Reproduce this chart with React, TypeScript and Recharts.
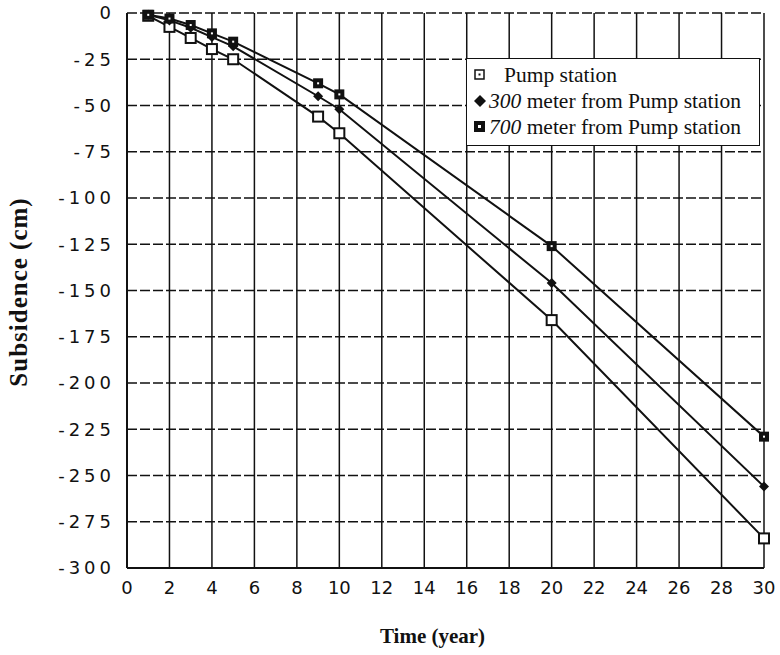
import { LineChart, Line, XAxis, YAxis, CartesianGrid } from 'recharts';

const years = [1, 2, 3, 4, 5, 9, 10, 20, 30];
const pumpStation = [-1.5, -7.5, -13.5, -19.5, -25, -56, -65, -166, -284];
const m300 = [-1, -4, -8, -13, -18, -45, -52, -146, -256];
const m700 = [-1, -3, -6.5, -11, -15.5, -38, -44, -126, -229];
const xTicks = [0, 2, 4, 6, 8, 10, 12, 14, 16, 18, 20, 22, 24, 26, 28, 30];
const yTicks = [0, -25, -50, -75, -100, -125, -150, -175, -200, -225, -250, -275, -300];

const data = years.map((t, i) => ({
  t,
  pump: pumpStation[i],
  m300: m300[i],
  m700: m700[i],
}));

const OpenSquare = (p: any) => (
  <rect key={`o-${p.index}`} x={p.cx - 5} y={p.cy - 5} width={10} height={10}
    fill="#fff" stroke="#111" strokeWidth={2} />
);

const Diamond = (p: any) => (
  <path key={`d-${p.index}`}
    d={`M${p.cx},${p.cy - 5} L${p.cx + 5},${p.cy} L${p.cx},${p.cy + 5} L${p.cx - 5},${p.cy} Z`}
    fill="#111" />
);

const FilledSquare = (p: any) => (
  <g key={`f-${p.index}`}>
    <rect x={p.cx - 5} y={p.cy - 5} width={10} height={10} fill="#111" />
    <rect x={p.cx - 1} y={p.cy - 1} width={2} height={2} fill="#fff" />
  </g>
);

const tickStyle = { fill: '#111', fontSize: 18, fontFamily: 'DejaVu Sans' };

function Legend() {
  const row = { display: 'flex', alignItems: 'center', height: 26, whiteSpace: 'nowrap' } as const;
  return (
    <div style={{
      position: 'absolute', left: 466, top: 58, width: 294, height: 88,
      background: '#fff', border: '1.5px solid #111', boxSizing: 'border-box',
      fontFamily: '"Liberation Serif", serif', fontSize: 21.5, color: '#111', padding: '3px 0 0 6px',
    }}>
      <div style={row}>
        <svg width={14} height={14} style={{ marginRight: 17 }}>
          <rect x={2} y={2} width={9} height={9} fill="#fff" stroke="#111" strokeWidth={1.5} />
          <rect x={5.5} y={5.5} width={2} height={2} fill="#111" />
        </svg>
        <span>Pump station</span>
      </div>
      <div style={row}>
        <svg width={14} height={14} style={{ marginRight: 2 }}>
          <path d="M7,1 L13,7 L7,13 L1,7 Z" fill="#111" />
        </svg>
        <span><i>300</i> meter from Pump station</span>
      </div>
      <div style={row}>
        <svg width={14} height={14} style={{ marginRight: 2 }}>
          <rect x={1} y={1} width={11} height={11} fill="#111" />
          <rect x={5} y={5} width={3} height={3} fill="#fff" />
        </svg>
        <span><i>700</i> meter from Pump station</span>
      </div>
    </div>
  );
}

export default function App() {
  return (
    <div style={{ position: 'absolute', left: 0, top: 0, width: 780, height: 655, background: '#fff' }}>
      <LineChart width={780} height={655} data={data}
        margin={{ top: 13, right: 16, bottom: 57, left: 0 }}>
        <CartesianGrid stroke="#111" strokeWidth={1.5} horizontal={false} />
        <CartesianGrid stroke="#111" strokeWidth={1.5} vertical={false} strokeDasharray="10 3" />
        <XAxis dataKey="t" type="number" domain={[0, 30]} ticks={xTicks} interval={0}
          height={30} tickSize={0} tickMargin={13} tick={tickStyle}
          axisLine={{ stroke: '#111', strokeWidth: 2 }} />
        <YAxis type="number" domain={[-300, 0]} ticks={yTicks} interval={0}
          width={127} tickSize={0} tickMargin={12}
          tick={{ ...tickStyle, letterSpacing: 4 }}
          axisLine={{ stroke: '#111', strokeWidth: 2 }} />
        <Line type="linear" dataKey="pump" stroke="#111" strokeWidth={2}
          dot={OpenSquare} isAnimationActive={false} />
        <Line type="linear" dataKey="m300" stroke="#111" strokeWidth={2}
          dot={Diamond} isAnimationActive={false} />
        <Line type="linear" dataKey="m700" stroke="#111" strokeWidth={2}
          dot={FilledSquare} isAnimationActive={false} />
      </LineChart>
      <Legend />
      <div style={{
        position: 'absolute', left: 0, width: 780, paddingLeft: 85, boxSizing: 'border-box',
        top: 624, textAlign: 'center', fontFamily: '"Liberation Serif", serif',
        fontWeight: 'bold', fontSize: 21, color: '#111',
      }}>Time (year)</div>
      <div style={{
        position: 'absolute', left: 19, top: 292, transform: 'translate(-50%, -50%) rotate(-90deg)',
        whiteSpace: 'nowrap', fontFamily: '"Liberation Serif", serif', fontWeight: 'bold',
        fontSize: 25, letterSpacing: 1, color: '#111',
      }}>Subsidence (cm)</div>
    </div>
  );
}
